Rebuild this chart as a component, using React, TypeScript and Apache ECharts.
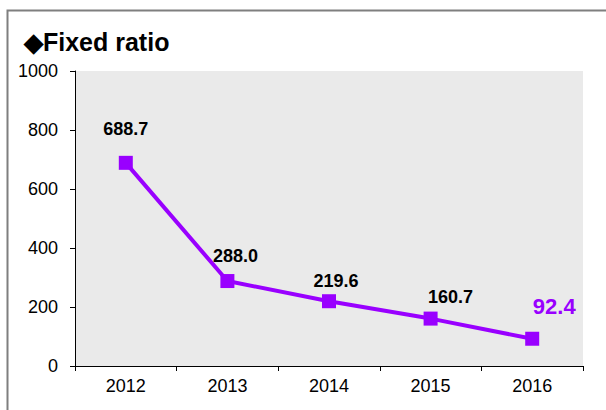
import React, { useEffect, useRef } from "react";
import * as echarts from "echarts";

const years = ["2012", "2013", "2014", "2015", "2016"];
const fixedRatio = [688.7, 288.0, 219.6, 160.7, 92.4];
const labelTexts = ["688.7", "288.0", "219.6", "160.7", "92.4"];
const titleText = "◆Fixed ratio";

const PURPLE = "#9900ff";
const FONT = "'Liberation Sans', Arial, sans-serif";

export default function App() {
  const ref = useRef<HTMLDivElement>(null);
  useEffect(() => {
    if (!ref.current) return;
    const chart = echarts.init(ref.current, undefined, { renderer: "svg" });
    const offsets = [[0, -7.5], [8, 1], [7, 6], [20, 4], [22, -4.5]];
    const data = fixedRatio.map((v, i) => {
      const last = i === fixedRatio.length - 1;
      return {
        value: v,
        label: {
          show: true,
          position: "top",
          distance: 10,
          offset: offsets[i],
          formatter: labelTexts[i],
          fontFamily: FONT,
          fontWeight: "bold",
          fontSize: last ? 22 : 18,
          color: last ? PURPLE : "#000",
        },
      };
    });
    chart.setOption({
      animation: false,
      backgroundColor: "#fff",
      graphic: [
        {
          type: "rect",
          shape: { x: 7.5, y: 10.5, width: 700, height: 500 },
          style: { fill: "none", stroke: "#7f7f7f", lineWidth: 2 },
          silent: true,
        },
        {
          type: "text",
          left: 24,
          top: 29,
          style: {
            text: titleText,
            font: `bold 25px ${FONT}`,
            fill: "#000",
          },
        },
      ],
      grid: {
        left: 75,
        right: 23,
        top: 71,
        bottom: 44,
        show: true,
        backgroundColor: "#eaeaea",
        borderWidth: 0,
      },
      xAxis: {
        type: "category",
        data: years,
        boundaryGap: true,
        axisLine: { show: true, lineStyle: { color: "#000", width: 1 } },
        axisTick: { show: true, length: 5, inside: false, lineStyle: { color: "#000" } },
        axisLabel: { fontFamily: FONT, fontSize: 18, color: "#000", margin: 11 },
        splitLine: { show: false },
      },
      yAxis: {
        type: "value",
        min: 0,
        max: 1000,
        interval: 200,
        axisLine: { show: true, lineStyle: { color: "#000", width: 1 } },
        axisTick: { show: true, length: 5, lineStyle: { color: "#000" } },
        axisLabel: {
          fontFamily: FONT,
          fontSize: 18,
          color: "#000",
          margin: 17,
          formatter: (v: number) => String(v),
        },
        splitLine: { show: false },
      },
      series: [
        {
          type: "line",
          data,
          symbol: "rect",
          symbolSize: 14,
          itemStyle: { color: PURPLE },
          lineStyle: { color: PURPLE, width: 4 },
        },
      ],
    });
    return () => chart.dispose();
  }, []);
  return <div ref={ref} style={{ width: 606, height: 410, position: "fixed", left: 0, top: 0 }} />;
}
